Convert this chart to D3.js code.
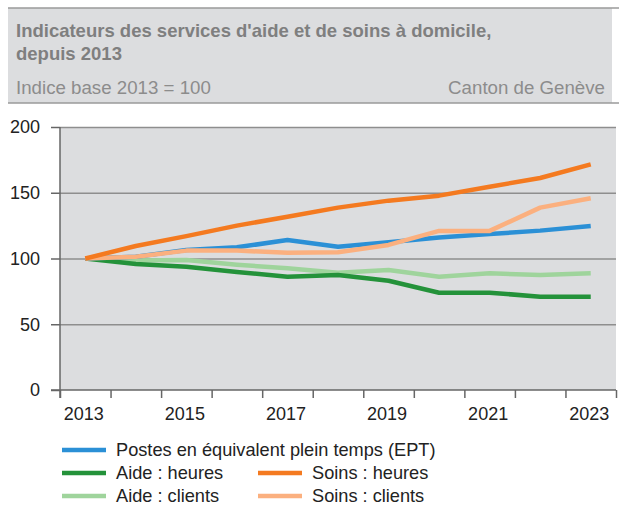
<!DOCTYPE html>
<html>
  <head>
    <style>
      body,
      html {
        margin: 0;
        padding: 0;
        background: #fff;
      }
      svg text {
        font-family: 'Liberation Sans', Arial, sans-serif;
      }
    </style>
  </head>
  <body>
    <svg id="svg" width="619" height="506"></svg>

    <script src="https://cdn.jsdelivr.net/npm/d3@7"></script>
    <script>
      const years = [2013, 2014, 2015, 2016, 2017, 2018, 2019, 2020, 2021, 2022, 2023];
      const yearLabels = [2013, 2015, 2017, 2019, 2021, 2023];
      const yTicks = [0, 50, 100, 150, 200];

      const postesEPT = [100, 101.4, 106.5, 108.5, 114, 109, 112.3, 116, 118.6, 121.2, 124.7];
      const aideHeures = [100, 95.8, 93.8, 89.7, 86.2, 87.5, 83.1, 74, 74, 71, 71];
      const aideClients = [100, 98.4, 98.9, 95.3, 92.5, 89.2, 91.3, 86.2, 88.7, 87.5, 88.7];
      const soinsHeures = [100, 109.5, 117, 125, 131.8, 138.7, 144, 147.8, 154.6, 161.2, 171.6];
      const soinsClients = [100, 101.4, 106, 106, 104.4, 104.7, 110.3, 121, 121, 138.7, 145.8];

      const series = [
        { name: 'Aide : clients', values: aideClients, color: '#9fd49c' },
        { name: 'Aide : heures', values: aideHeures, color: '#24923a' },
        { name: 'Postes en équivalent plein temps (EPT)', values: postesEPT, color: '#2b90d6' },
        { name: 'Soins : clients', values: soinsClients, color: '#fbb07f' },
        { name: 'Soins : heures', values: soinsHeures, color: '#f47a20' },
      ];

      const svg = d3.select('#svg');

      // header box
      svg.append('rect').attr('x', 8).attr('y', 8).attr('width', 604).attr('height', 95).attr('fill', '#dcdddf');
      svg.append('line').attr('x1', 8).attr('x2', 619).attr('y1', 8).attr('y2', 8).attr('stroke', '#9a9a9a').attr('stroke-width', 1.5);
      svg.append('line').attr('x1', 8).attr('x2', 619).attr('y1', 103).attr('y2', 103).attr('stroke', '#9a9a9a').attr('stroke-width', 1.5);

      const head = svg.append('g').attr('fill', '#7f7f7f');
      head.append('text').attr('x', 16).attr('y', 37).attr('font-size', 18.5).attr('font-weight', 'bold')
        .text("Indicateurs des services d'aide et de soins à domicile,");
      head.append('text').attr('x', 16).attr('y', 60).attr('font-size', 18.5).attr('font-weight', 'bold')
        .text('depuis 2013');
      head.append('text').attr('x', 16).attr('y', 94).attr('font-size', 18.7).attr('fill', '#8c8c8c')
        .text('Indice base 2013 = 100');
      head.append('text').attr('x', 605).attr('y', 94).attr('font-size', 18.7).attr('fill', '#8c8c8c')
        .attr('text-anchor', 'end').text('Canton de Genève');

      // plot
      const plotLeft = 60, plotRight = 616, plotTop = 127, plotBottom = 390;

      const xScale = d3.scaleLinear().domain([2012.5, 2023.5]).range([plotLeft, plotRight]);
      const yScale = d3.scaleLinear().domain([0, 200]).range([plotBottom, plotTop]);

      svg.append('rect').attr('x', plotLeft).attr('y', plotTop).attr('width', plotRight - plotLeft)
        .attr('height', plotBottom - plotTop).attr('fill', '#dcdddf');

      const grid = svg.append('g').attr('transform', `translate(${plotLeft}, 0)`)
        .call(d3.axisLeft(yScale).tickValues(yTicks.slice(1)).tickSize(-(plotRight - plotLeft)).tickFormat(''));
      grid.select('.domain').remove();
      grid.selectAll('line').attr('stroke', '#8e8e8e').attr('stroke-width', 1.3);

      const lineGen = d3.line()
        .x((d, i) => xScale(years[i]))
        .y((d) => yScale(d));

      svg.append('g').selectAll('path').data(series).enter().append('path')
        .attr('d', (d) => lineGen(d.values))
        .attr('fill', 'none')
        .attr('stroke', (d) => d.color)
        .attr('stroke-width', 4.5)
        .attr('stroke-linejoin', 'round');

      // y axis
      const yAxis = svg.append('g').attr('transform', `translate(${plotLeft}, 0)`)
        .call(d3.axisLeft(yScale).tickValues(yTicks).tickSize(9).tickPadding(11).tickSizeOuter(0));
      yAxis.select('.domain').attr('stroke', '#666').attr('stroke-width', 1.5)
        .attr('d', `M0,${plotTop}V${plotBottom + 8}`);
      yAxis.selectAll('line').attr('stroke', '#666').attr('stroke-width', 1.5);
      yAxis.selectAll('text').attr('font-size', 18).attr('fill', '#222')
        .attr('font-family', "'Liberation Sans', Arial, sans-serif");

      // x axis ticks at year boundaries
      const boundaries = years.map((y) => y - 0.5).concat([2023.5]);
      const xAxis = svg.append('g').attr('transform', `translate(0, ${plotBottom})`)
        .call(d3.axisBottom(xScale).tickValues(boundaries).tickSize(8).tickSizeOuter(0).tickFormat(''));
      xAxis.select('.domain').attr('stroke', '#666').attr('stroke-width', 1.5)
        .attr('d', `M${plotLeft - 9},0H${plotRight}`);
      xAxis.selectAll('line').attr('stroke', '#666').attr('stroke-width', 1.5);

      const xLabels = svg.append('g').attr('transform', `translate(-2, ${plotBottom})`)
        .call(d3.axisBottom(xScale).tickValues(yearLabels).tickSize(0).tickPadding(17).tickFormat(d3.format('d')));
      xLabels.select('.domain').remove();
      xLabels.selectAll('text').attr('font-size', 18).attr('fill', '#222')
        .attr('font-family', "'Liberation Sans', Arial, sans-serif");

      // legend
      const legendItems = [
        { s: series[2], x: 62, y: 450 },
        { s: series[1], x: 62, y: 473 },
        { s: series[4], x: 258, y: 473 },
        { s: series[0], x: 62, y: 496 },
        { s: series[3], x: 258, y: 496 },
      ];
      const legend = svg.append('g');
      const li = legend.selectAll('g').data(legendItems).enter().append('g')
        .attr('transform', (d) => `translate(${d.x}, ${d.y})`);
      li.append('line').attr('x1', 0).attr('x2', 44).attr('y1', 0).attr('y2', 0)
        .attr('stroke', (d) => d.s.color).attr('stroke-width', 4.5);
      li.append('text').attr('x', 54).attr('y', 6).attr('font-size', 18.2).attr('fill', '#222')
        .text((d) => d.s.name);
    </script>
  </body>
</html>
